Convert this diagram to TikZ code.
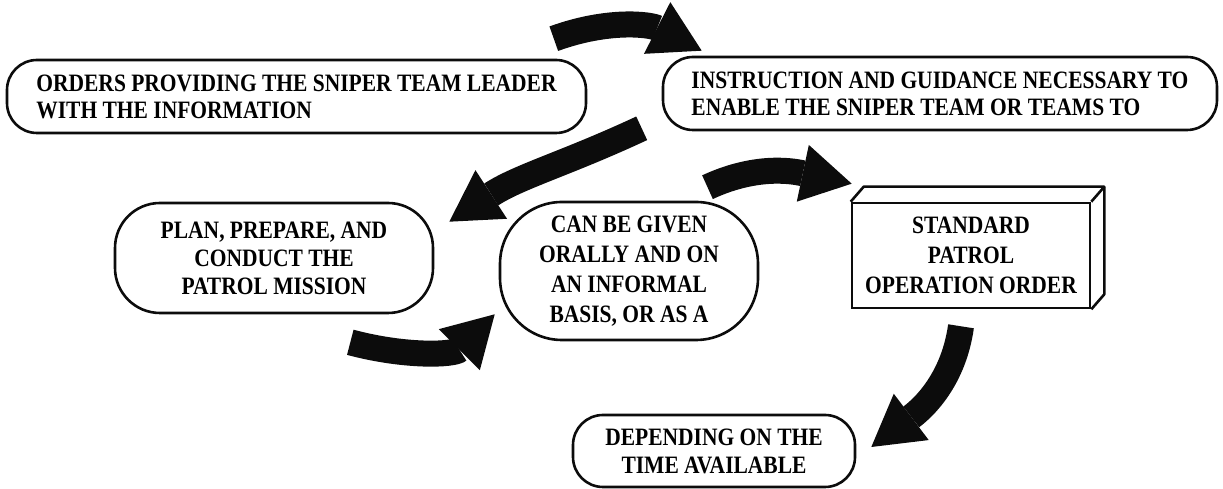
\documentclass[tikz,border=0pt]{standalone}
\usepackage{fontspec}
\setmainfont{Liberation Serif}[FakeStretch=0.86]
\definecolor{scanBlack}{RGB}{12, 12, 12}
\usepackage{tikz}
\usetikzlibrary{positioning, calc, arrows.meta}
\tikzset{
  pillbox/.style={rectangle, draw=scanBlack, fill=white, line width=2.6pt,
                  inner sep=0pt, align=center, rounded corners=30pt,
                  font=\fontsize{25}{27}\selectfont\bfseries},
  cratebox/.style={rectangle, draw=scanBlack, fill=white, line width=2.6pt,
                   minimum width=238pt, minimum height=105pt, inner sep=0pt,
                   align=center, font=\fontsize{25}{30}\selectfont\bfseries},
  crateedge/.style={draw=scanBlack, line width=2.6pt, line join=round},
  fatarrow/.style={draw=scanBlack, line width=26pt,
                   -{Triangle[length=50pt, width=58pt, line width=0pt]}},
}

\begin{document}
\begin{tikzpicture}[x=1pt, y=1pt]
    \useasboundingbox (0,0) rectangle (1223,489);

    % Top row
    \node[pillbox, minimum width=579pt, minimum height=73pt, align=left]
         (orders) at (296.5,392.5)
         {ORDERS PROVIDING THE SNIPER TEAM LEADER\\WITH THE INFORMATION};

    \node[pillbox, minimum width=554pt, minimum height=73pt, align=left]
         (instr) at (940,395.5)
         {INSTRUCTION AND GUIDANCE NECESSARY TO\\ENABLE THE SNIPER TEAM OR TEAMS TO};

    % Middle row
    \node[pillbox, minimum width=318pt, minimum height=110pt, rounded corners=45pt,
          font=\fontsize{25}{28}\selectfont\bfseries]
         (plan) at (274,231) {PLAN, PREPARE, AND\\CONDUCT THE\\PATROL MISSION};

    \node[pillbox, minimum width=258pt, minimum height=138pt, rounded corners=62pt,
          font=\fontsize{25}{30}\selectfont\bfseries]
         (given) at (629,218) {CAN BE GIVEN\\ORALLY AND ON\\AN INFORMAL\\BASIS, OR AS A};

    \node[cratebox] (sop) at (971,233.5) {STANDARD\\PATROL\\OPERATION ORDER};
    \draw[crateedge] (sop.north west) -- ++(13,15)
         -| ([shift={(13,15)}]sop.south east) -- (sop.south east);
    \draw[crateedge] (sop.north east) -- ++(13,15);

    % Bottom
    \node[pillbox, minimum width=282pt, minimum height=72pt,
          font=\fontsize{25}{28}\selectfont\bfseries]
         (depend) at (714,38) {DEPENDING ON THE\\TIME AVAILABLE};

    % Connections
    \draw[fatarrow] ([shift={(-33.5,20)}]orders.north east)
         to[out=20, in=153] ([shift={(40,5)}]instr.north west);
    \draw[fatarrow] ([shift={(-20,3)}]instr.south west)
         to[out=205, in=33] ([shift={(15,-20)}]plan.north east);
    \draw[fatarrow] ([shift={(-84,-28)}]plan.south east)
         to[out=-15, in=225] ([shift={(-4,27)}]given.south west);
    \draw[fatarrow] ([shift={(78.5,13.5)}]given.north)
         to[out=25, in=168] ([shift={(1,18)}]sop.north west);
    \draw[fatarrow] ([shift={(-10,-17)}]sop.south)
         to[out=262, in=37] ([shift={(15,4)}]depend.east);
  \end{tikzpicture}
\end{document}
